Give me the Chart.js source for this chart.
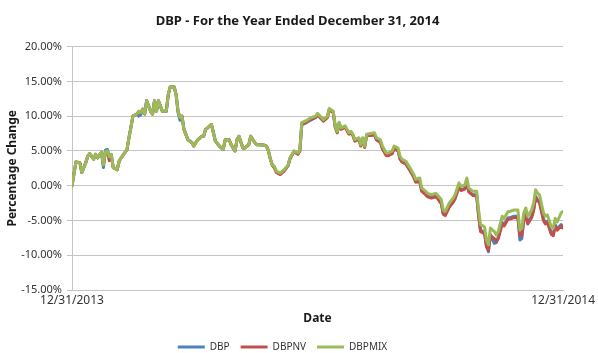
<!DOCTYPE html>
<html><head><meta charset="utf-8">
<script src="https://cdn.jsdelivr.net/npm/chart.js@4.4.0/dist/chart.umd.min.js"></script>
<style>html,body{margin:0;padding:0;background:#fff}#wrap{width:598px;height:353px}</style>
</head><body><div id="wrap"><canvas id="c" width="598" height="353"></canvas></div>
<script>
const chartTitle = 'DBP - For the Year Ended December 31, 2014';
const tickLabels = ['12/31/2013', '12/31/2014'];
const tickDays = [0, 250];
const yTicks = [-15, -10, -5, 0, 5, 10, 15, 20];
const seriesNames = ['DBP', 'DBPNV', 'DBPMIX'];

const days = [
  0,2,4,5,7,8,9,11,12,13,
  15,16,17,18,19,20,21,23,24,25,
  27,28,29,30,31,33,34,35,36,37,
  38,40,41,42,43,44,46,48,49,50,
  52,53,54,55,56,57,59,61,62,64,
  66,67,68,69,71,72,73,75,77,78,
  80,81,83,84,85,87,88,90,91,93,
  94,96,98,99,100,101,102,103,104,106,
  108,110,111,113,115,116,117,119,120,122,
  124,125,127,128,130,131,133,134,135,136,
  137,139,141,142,143,144,146,147,148,149,
  150,152,154,155,157,158,160,161,163,164,
  166,167,168,170,172,174,175,177,178,180,
  181,183,185,186,188,189,190,192,194,195,
  197,198,200,201,202,204,206,207,208,210,
  211,212,213,215,216,217,219,220,222,223,
  225,227,228,229,230,231,232,234,235,236,
  237,238,240,241,242,244,245,246,247,249,
  250
];

const dbpmix = [
  0.0,3.4,3.3,1.9,3.3,4.2,4.6,3.8,4.5,4.0,
  4.8,3.0,4.9,5.0,4.2,4.5,2.6,2.3,3.5,4.0,
  4.8,5.2,6.9,8.4,10.0,10.3,10.7,10.5,11.0,10.3,
  12.2,10.7,10.3,12.2,10.7,12.2,10.7,10.7,13.1,14.2,
  14.2,13.1,10.7,9.8,10.0,8.1,6.6,6.2,5.7,6.6,
  7.1,7.1,8.1,8.3,8.8,7.6,6.4,5.7,5.2,6.6,
  6.6,5.9,5.0,6.6,7.1,5.4,5.4,5.9,7.1,6.2,
  5.9,5.9,5.8,5.7,5.0,3.8,3.0,2.8,2.1,1.8,
  2.3,3.0,4.0,5.0,4.7,5.2,9.1,9.3,9.5,9.8,
  10.0,10.4,9.8,9.5,10.0,11.1,10.7,8.6,7.8,9.1,
  8.3,8.6,7.6,7.8,7.4,6.6,6.9,5.9,6.9,5.7,
  7.4,7.5,7.6,6.9,6.6,5.7,4.7,4.7,5.0,5.7,
  5.4,4.2,3.8,3.5,2.6,1.6,0.9,1.1,-0.3,-0.8,
  -1.1,-1.3,-1.1,-1.3,-2.0,-3.5,-3.7,-2.5,-1.8,-1.3,
  0.4,-0.1,0.1,1.1,-0.3,-0.8,-0.8,-3.5,-5.6,-5.9,
  -7.8,-8.5,-6.1,-6.6,-7.1,-6.6,-4.4,-4.7,-3.7,-3.7,
  -3.5,-3.5,-6.4,-6.1,-3.9,-3.2,-4.4,-3.5,-2.5,-0.6,
  -1.1,-1.3,-3.9,-4.4,-4.2,-5.9,-6.1,-4.7,-5.2,-3.9,
  -3.7
];

const dbpnv = [
  0.0,3.4,3.3,1.9,3.3,4.2,4.6,3.8,4.5,4.0,
  4.8,3.0,4.9,4.9,3.6,4.2,2.6,2.3,3.5,4.0,
  4.8,5.2,6.9,8.4,10.0,10.3,10.7,10.5,11.0,10.3,
  12.2,10.7,10.3,12.2,10.7,12.2,10.7,10.7,13.1,14.2,
  14.2,13.1,10.7,9.8,10.0,8.1,6.6,6.2,5.7,6.6,
  7.1,7.1,8.1,8.3,8.8,7.6,6.4,5.7,5.2,6.6,
  6.6,5.9,5.0,6.6,7.1,5.4,5.4,5.9,7.1,6.2,
  5.9,5.9,5.8,5.7,5.0,3.8,2.9,2.6,1.9,1.6,
  2.1,2.9,3.9,4.9,4.5,5.0,8.9,9.1,9.3,9.6,
  9.8,10.2,9.6,9.3,9.8,10.9,10.5,8.4,7.6,8.9,
  8.1,8.4,7.4,7.6,7.2,6.4,6.7,5.7,6.7,5.5,
  7.2,7.2,7.3,6.6,6.2,5.3,4.3,4.3,4.6,5.3,
  5.0,3.8,3.4,3.1,2.2,1.2,0.5,0.6,-0.8,-1.3,
  -1.6,-1.8,-1.6,-1.8,-2.6,-4.1,-4.3,-3.1,-2.4,-1.9,
  -0.2,-0.7,-0.5,0.5,-0.9,-1.4,-1.5,-4.4,-6.6,-6.9,
  -8.8,-9.3,-7.2,-7.6,-8.0,-7.6,-5.5,-5.8,-4.8,-4.8,
  -4.6,-4.6,-7.2,-7.1,-5.0,-4.3,-5.5,-4.6,-3.6,-1.7,
  -2.2,-2.4,-5.0,-5.5,-5.3,-7.0,-7.2,-5.8,-6.4,-5.8,
  -6.1
];

const dbp = [
  0.0,3.4,3.3,1.9,3.3,4.2,4.6,3.8,4.5,4.0,
  4.8,2.6,5.1,5.2,4.2,4.5,2.6,2.3,3.5,4.0,
  4.8,5.2,6.9,8.4,10.0,10.3,10.0,10.2,11.0,10.3,
  12.2,10.7,10.3,12.2,10.7,12.2,10.7,10.7,13.1,14.2,
  14.2,13.1,10.5,9.4,10.0,8.1,6.6,6.2,5.7,6.6,
  7.1,7.1,8.1,8.3,8.8,7.6,6.4,5.7,5.2,6.6,
  6.6,5.9,5.0,6.6,7.1,5.4,5.4,5.9,7.1,6.2,
  5.9,5.9,5.8,5.7,5.0,3.8,3.0,2.7,2.0,1.7,
  2.2,2.9,3.9,4.9,4.6,5.1,8.8,9.0,9.2,9.5,
  9.8,10.2,9.6,9.3,9.9,11.0,10.6,8.5,7.7,9.0,
  8.2,8.5,7.5,7.7,7.3,6.5,6.8,5.8,6.8,5.6,
  7.3,7.3,7.4,6.6,6.3,5.4,4.4,4.4,4.7,5.4,
  5.1,3.9,3.5,3.2,2.3,1.3,0.6,0.7,-0.7,-1.2,
  -1.5,-1.7,-1.5,-1.7,-2.5,-4.0,-4.2,-3.0,-2.3,-1.8,
  -0.1,-0.6,-0.4,0.6,-0.8,-1.3,-1.3,-4.2,-6.4,-6.7,
  -8.6,-9.5,-7.0,-8.3,-8.2,-7.4,-5.3,-5.6,-4.6,-4.6,
  -4.4,-4.4,-7.8,-7.6,-4.8,-4.1,-5.3,-4.4,-3.4,-1.5,
  -2.0,-2.2,-4.8,-5.3,-5.1,-6.8,-7.0,-5.6,-6.2,-5.6,
  -5.9
];

const colors = ['#4F81BD', '#C0504D', '#9BBB59'];
const seriesValues = [dbp, dbpnv, dbpmix];

Chart.defaults.font.family = "'Noto Sans', 'Open Sans', sans-serif";
Chart.defaults.color = '#333333';

const toPoints = arr => arr.map((v, i) => ({ x: days[i], y: v }));

const shiftPlugin = {
  id: 'shiftBlocks',
  afterLayout(chart) {
    const t = chart.titleBlock;
    if (t) { t.left += 10; t.right += 10; }
    const l = chart.legend;
    if (l) { l.left -= 5; l.right -= 5; l.top += 3; l.bottom += 3; }
  }
};

const GRID = '#c4c4c4';

new Chart(document.getElementById('c'), {
  type: 'line',
  data: {
    datasets: seriesNames.map((name, i) => ({
      label: name,
      data: toPoints(seriesValues[i]),
      borderColor: colors[i],
      backgroundColor: colors[i],
      borderWidth: 3,
      borderJoinStyle: 'round',
      borderCapStyle: 'round',
      pointRadius: 0,
      tension: 0,
      order: 3 - i
    }))
  },
  options: {
    responsive: false,
    animation: false,
    devicePixelRatio: 1,
    layout: { padding: { left: 5, right: 28, top: 1, bottom: -6 } },
    plugins: {
      title: {
        display: true,
        text: chartTitle,
        font: { size: 13, weight: 'bold' },
        color: '#1a1a1a',
        padding: { top: 12, bottom: 18 }
      },
      legend: {
        position: 'bottom',
        labels: {
          boxWidth: 27,
          boxHeight: 3,
          padding: 11,
          font: { size: 10 },
          color: '#333',
          sort: (a, b) => a.datasetIndex - b.datasetIndex,
          generateLabels: chart => Chart.defaults.plugins.legend.labels.generateLabels(chart)
            .map(item => Object.assign(item, { lineWidth: 0 }))
        }
      },
      tooltip: { enabled: false }
    },
    scales: {
      x: {
        type: 'linear',
        min: tickDays[0],
        max: tickDays[1],
        afterBuildTicks: s => { s.ticks = tickDays.map(v => ({ value: v })); },
        afterFit: s => { s.height = 38; },
        grid: { display: false, drawTicks: false },
        border: { display: true, color: GRID },
        ticks: {
          autoSkip: false,
          maxRotation: 0,
          padding: 3,
          font: { size: 12 },
          callback: (v, i) => tickLabels[i]
        },
        title: {
          display: true,
          text: 'Date',
          font: { size: 12, weight: 'bold' },
          color: '#1a1a1a',
          padding: { top: 0, bottom: 2 }
        }
      },
      y: {
        min: -15,
        max: 20,
        afterBuildTicks: s => { s.ticks = yTicks.map(v => ({ value: v })); },
        afterFit: s => { s.width = 67; },
        grid: { color: GRID, tickLength: 5, tickColor: GRID, lineWidth: 1 },
        border: { display: true, color: GRID },
        ticks: {
          padding: 5,
          font: { size: 11 },
          callback: v => v.toFixed(2) + '%'
        },
        title: {
          display: true,
          text: 'Percentage Change',
          font: { size: 12, weight: 'bold' },
          color: '#1a1a1a',
          padding: { top: 0, bottom: 0 }
        }
      }
    }
  },
  plugins: [shiftPlugin]
});
</script>
</body></html>
